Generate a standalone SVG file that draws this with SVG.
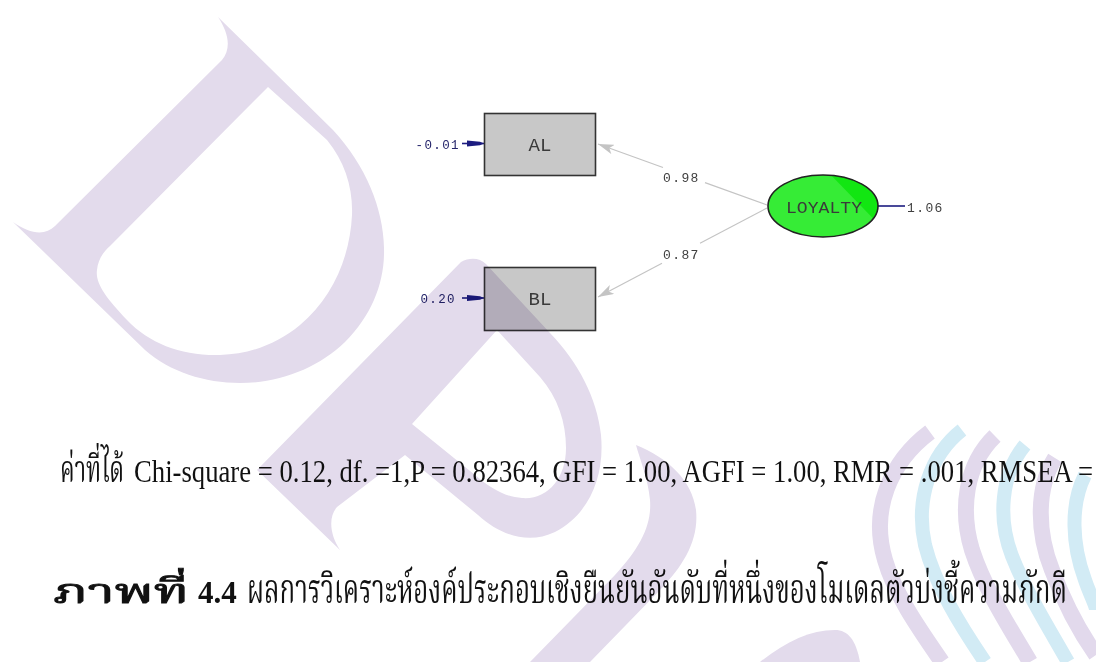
<svg xmlns="http://www.w3.org/2000/svg" width="1096" height="662" viewBox="0 0 1096 662">
  <style>
    .box { fill: #c8c8c8; stroke: #333333; stroke-width: 1.6; }
    .vname { font-family: "Liberation Mono", "DejaVu Sans Mono", monospace; font-size: 19px; fill: #3a3a3a; text-anchor: middle; }
    .coef { font-family: "Liberation Mono", "DejaVu Sans Mono", monospace; font-size: 13px; letter-spacing: 1.4px; fill: #404040; }
    .err { font-family: "Liberation Mono", "DejaVu Sans Mono", monospace; font-size: 12.5px; letter-spacing: 1.4px; fill: #24246a; }
    .path { stroke: #c4c4c4; stroke-width: 1.2; fill: none; }
    .errline { stroke: #1c1c80; stroke-width: 1.6; fill: none; }
    .stat { font-family: "Liberation Serif", "Norasi", "Kinnari", "Noto Serif Thai", "Garuda", "Loma", serif; font-size: 31px; fill: #111111; }
    .thai { font-family: "Liberation Serif", "Norasi", "Kinnari", "Noto Serif Thai", "Garuda", "Loma", serif; font-size: 41px; fill: #111111; }
    .heavy { stroke: #111111; stroke-width: 0.9; }
    .wm { fill: #e3dbec; mix-blend-mode: multiply; }
    .rib-p { fill: none; stroke: #e2d9ec; stroke-width: 16; mix-blend-mode: multiply; }
    .rib-b { fill: none; stroke: #d2ebf5; stroke-width: 14; mix-blend-mode: multiply; }
  </style>
  <defs>
    <marker id="head" viewBox="0 0 16 10" refX="16" refY="5" markerWidth="16" markerHeight="10" markerUnits="userSpaceOnUse" orient="auto">
      <path d="M0,0 L16,5 L0,10 L4,5 Z" fill="#c4c4c4"/>
    </marker>
    <clipPath id="ovalClip">
      <ellipse cx="823" cy="206" rx="55" ry="31"/>
    </clipPath>
  </defs>

  <rect width="1096" height="662" fill="#ffffff"/>

  <!-- connectors: factor loadings and error terms -->
  <g id="connectors">
    <line class="path" x1="767" y1="205" x2="705" y2="182.6"/>
    <line class="path" x1="663" y1="167.5" x2="598" y2="144" marker-end="url(#head)"/>
    <line class="path" x1="767" y1="208" x2="700" y2="243.3"/>
    <line class="path" x1="662" y1="263.3" x2="598" y2="297" marker-end="url(#head)"/>
    <line class="errline" x1="878" y1="206" x2="905" y2="206"/>
    <line class="errline" x1="462" y1="143.5" x2="484" y2="143.5"/>
    <polygon points="467,140.5 480,141.8 484,143.5 480,145.2 467,146.5" fill="#1c1c80"/>
    <line class="errline" x1="462" y1="298" x2="484" y2="298"/>
    <polygon points="467,295 480,296.3 484,298 480,299.7 467,301" fill="#1c1c80"/>
    <text class="coef" x="663" y="182">0.98</text>
    <text class="coef" x="663" y="258.5">0.87</text>
    <text class="coef" x="907" y="211.5">1.06</text>
    <text class="err" x="460" y="148.5" text-anchor="end">-0.01</text>
    <text class="err" x="456" y="303" text-anchor="end">0.20</text>
  </g>

  <g id="node-AL">
    <rect class="box" x="484.5" y="113.5" width="111" height="62"/>
    <text class="vname" x="540" y="151">AL</text>
  </g>

  <g id="node-BL">
    <rect class="box" x="484.5" y="267.5" width="111" height="63"/>
    <text class="vname" x="540" y="305">BL</text>
  </g>

  <g id="node-LOYALTY">
    <ellipse cx="823" cy="206" rx="55" ry="31" fill="#36ec36"/>
    <polygon points="828,172 900,172 900,246" fill="#12e612" clip-path="url(#ovalClip)"/>
    <ellipse cx="823" cy="206" rx="55" ry="31" fill="none" stroke="#222222" stroke-width="1.6"/>
    <text class="vname" x="824" y="213" style="font-size:17px" textLength="76" lengthAdjust="spacingAndGlyphs">LOYALTY</text>
  </g>

  <!-- fit statistics and figure caption -->
  <g id="fit-stats">
    <text class="thai" x="60" y="482" style="font-size:37px" textLength="64" lengthAdjust="spacingAndGlyphs">ค่าที่ได้</text>
    <text class="stat" x="134" y="482" textLength="959" lengthAdjust="spacingAndGlyphs">Chi-square = 0.12, df. =1,P = 0.82364, GFI = 1.00, AGFI = 1.00, RMR = .001, RMSEA =</text>
  </g>
  <g id="caption">
    <text class="thai heavy" x="53" y="603" style="font-size:33px" textLength="136" lengthAdjust="spacingAndGlyphs">ภาพที่</text>
    <text class="stat" x="198" y="603" font-weight="bold">4.4</text>
    <text class="thai" x="247" y="603" textLength="820" lengthAdjust="spacingAndGlyphs">ผลการวิเคราะห์องค์ประกอบเชิงยืนยันอันดับที่หนึ่งของโมเดลตัวบ่งชี้ความภักดี</text>
  </g>

  <!-- background letter marks -->
  <g id="watermark">
    <path class="wm" fill-rule="evenodd" d="M218,17 C228,32 232,48 222,60 L55,226 C45,236 30,234 13,222 L145,350 C170,372 205,383 240,383 C280,383 318,368 345,342 C372,315 385,282 384,248 C383,208 366,166 333,130 Z
      M268,87 L327,140 C345,162 353,188 352,215 C350,258 332,298 300,325 C277,344 250,354 220,355 C182,356 150,344 127,320 C106,298 95,283 97,270 C98,260 103,252 110,246 Z"/>
    <path class="wm" fill-rule="evenodd" d="M461,262 C470,257 480,258 486,264 L550,333 C578,362 597,398 601,435 C605,478 588,515 555,532 C528,545 500,535 478,515 L405,455 L337,507 C328,517 330,535 340,550 L257,470 Z
      M497,330 L540,377 C558,398 566,422 566,448 C566,478 548,500 522,498 C505,497 490,488 475,475 L412,424 Z"/>
    <path class="wm" d="M636,445 C668,458 692,480 696,510 C699,540 684,565 660,590 L590,662 L530,662 L615,575 C640,548 652,525 650,500 C648,478 640,460 636,445 Z"/>
    <path class="wm" d="M760,662 C785,642 810,630 835,630 C848,630 856,640 860,662 Z"/>
  </g>

  <g id="ribbon">
    <path class="rib-p" d="M930,432 C890,462 870,510 885,560 C895,595 920,630 942,662"/>
    <path class="rib-b" d="M962,430 C930,455 915,500 925,545 C935,585 960,625 985,662"/>
    <path class="rib-p" d="M995,436 C965,465 960,510 972,550 C985,590 1010,628 1030,662"/>
    <path class="rib-b" d="M1025,445 C1000,475 998,520 1012,556 C1026,592 1050,630 1068,662"/>
    <path class="rib-p" d="M1055,458 C1035,490 1038,535 1052,570 C1065,605 1082,635 1096,655"/>
    <path class="rib-b" d="M1085,475 C1070,505 1072,545 1085,580 C1090,595 1096,605 1096,610"/>
  </g>
</svg>
